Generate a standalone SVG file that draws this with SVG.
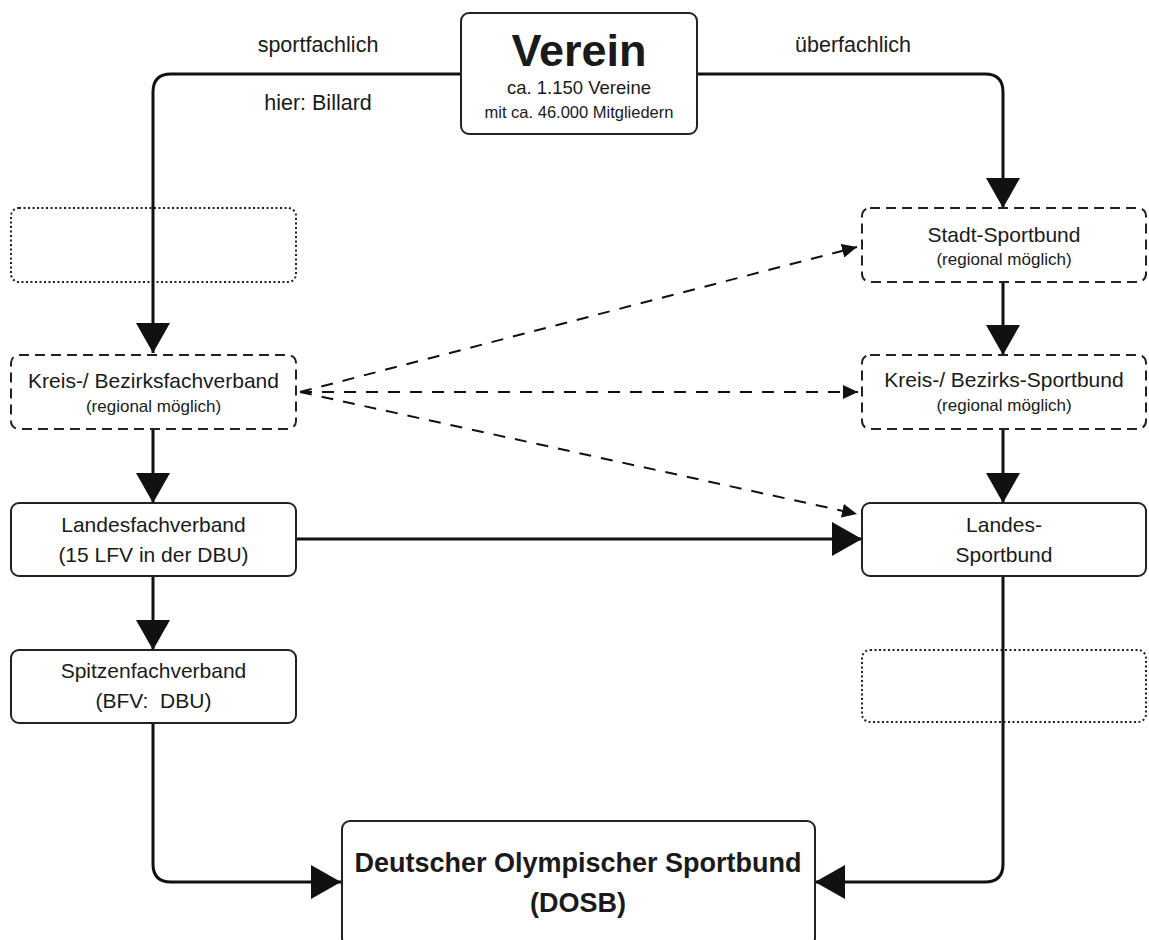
<svg xmlns="http://www.w3.org/2000/svg" width="1149" height="940" viewBox="0 0 1149 940">
<style>
  text { font-family: "Liberation Sans", Arial, sans-serif; fill: #1a1a1a; text-anchor: middle; }
  .box { fill: #fff; stroke: #222; stroke-width: 2; }
  .dash { fill: none; stroke: #222; stroke-width: 2; stroke-dasharray: 10 6; }
  .dot { fill: none; stroke: #222; stroke-width: 2; stroke-dasharray: 2 2.5; }
  .conn { fill: none; stroke: #111; stroke-width: 3; }
  .dconn { fill: none; stroke: #111; stroke-width: 2; stroke-dasharray: 12 10; }
  .t { font-size: 21px; }
  .s { font-size: 17px; }
  .lbl { font-size: 21.5px; }
</style>
<defs>
  <marker id="big" markerUnits="userSpaceOnUse" markerWidth="32" markerHeight="34" refX="30" refY="17" orient="auto">
    <path d="M0,0 L30,17 L0,34 z" fill="#111"/>
  </marker>
  <marker id="small" markerUnits="userSpaceOnUse" markerWidth="16" markerHeight="14" refX="15" refY="7" orient="auto">
    <path d="M0,0 L15,7 L0,14 z" fill="#111"/>
  </marker>
</defs>
<rect width="1149" height="940" fill="#fff"/>

<g id="labels">
  <text class="lbl" x="318" y="52">sportfachlich</text>
  <text class="lbl" x="318" y="110">hier: Billard</text>
  <text class="lbl" x="853" y="52">überfachlich</text>
</g>

<g id="placeholders">
  <rect id="empty-left" class="dot" x="11" y="208" width="285" height="74" rx="8"/>
  <rect id="empty-right" class="dot" x="862" y="650" width="284" height="72" rx="8"/>
</g>

<g id="connectors">
  <path class="conn" d="M462,74 H171 Q153,74 153,92 V353" marker-end="url(#big)"/>
  <path class="conn" d="M697,74 H985 Q1003,74 1003,92 V208" marker-end="url(#big)"/>
  <path class="conn" d="M1003,282 V355" marker-end="url(#big)"/>
  <path class="conn" d="M1003,429 V503" marker-end="url(#big)"/>
  <path class="conn" d="M153,429 V503" marker-end="url(#big)"/>
  <path class="conn" d="M153,576 V650" marker-end="url(#big)"/>
  <path class="conn" d="M296,539 H862" marker-end="url(#big)"/>
  <path class="conn" d="M153,723 V864 Q153,882 171,882 H341" marker-end="url(#big)"/>
  <path class="conn" d="M1003,576 V864 Q1003,882 985,882 H815" marker-end="url(#big)"/>
  <path class="dconn" d="M300,392 L857,247" marker-end="url(#small)"/>
  <path class="dconn" d="M300,392 L858,392" marker-end="url(#small)"/>
  <path class="dconn" d="M300,392 L857,514" marker-end="url(#small)"/>
</g>

<g id="verein">
  <rect class="box" x="461" y="13" width="236" height="121" rx="8"/>
  <text x="579" y="66" style="font-size:45px;font-weight:bold">Verein</text>
  <text x="579" y="94" style="font-size:18.5px">ca. 1.150 Vereine</text>
  <text x="579" y="118" style="font-size:16.5px">mit ca. 46.000 Mitgliedern</text>
</g>

<g id="kreisfach">
  <rect class="dash" x="11" y="355" width="285" height="74" rx="8"/>
  <text class="t" x="153.5" y="388">Kreis-/ Bezirksfachverband</text>
  <text class="s" x="153.5" y="412">(regional möglich)</text>
</g>

<g id="landesfach">
  <rect class="box" x="11" y="503" width="285" height="73" rx="8"/>
  <text class="t" x="153.5" y="532">Landesfachverband</text>
  <text class="t" x="153.5" y="562">(15 LFV in der DBU)</text>
</g>

<g id="spitzenfach">
  <rect class="box" x="11" y="650" width="285" height="73" rx="8"/>
  <text class="t" x="153.5" y="678">Spitzenfachverband</text>
  <text class="t" x="153.5" y="708" xml:space="preserve">(BFV:  DBU)</text>
</g>

<g id="stadtsport">
  <rect class="dash" x="862" y="208" width="284" height="74" rx="8"/>
  <text class="t" x="1004" y="242">Stadt-Sportbund</text>
  <text class="s" x="1004" y="265">(regional möglich)</text>
</g>

<g id="kreissport">
  <rect class="dash" x="862" y="355" width="284" height="74" rx="8"/>
  <text class="t" x="1004" y="387">Kreis-/ Bezirks-Sportbund</text>
  <text class="s" x="1004" y="411">(regional möglich)</text>
</g>

<g id="landessport">
  <rect class="box" x="862" y="503" width="284" height="73" rx="8"/>
  <text class="t" x="1004" y="532">Landes-</text>
  <text class="t" x="1004" y="562">Sportbund</text>
</g>

<g id="dosb">
  <rect class="box" x="342" y="821" width="473" height="125" rx="8"/>
  <text x="578" y="872" style="font-size:27px;font-weight:bold">Deutscher Olympischer Sportbund</text>
  <text x="578" y="912" style="font-size:27px;font-weight:bold">(DOSB)</text>
</g>
</svg>
